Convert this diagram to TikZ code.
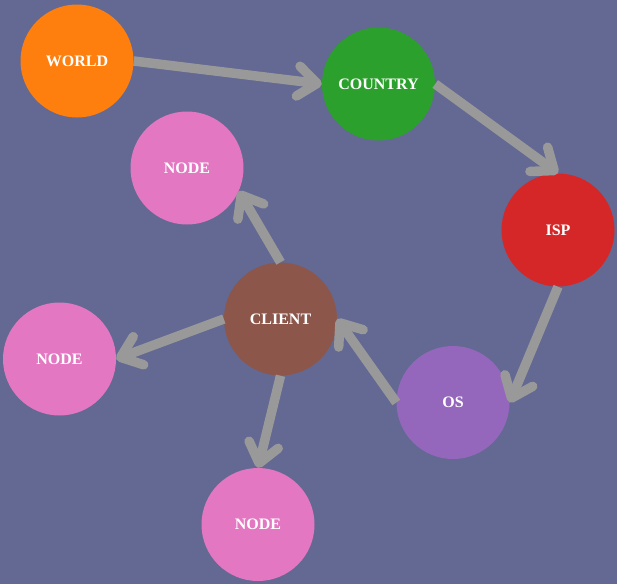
\documentclass[tikz,border=0pt]{standalone}
\usepackage{fontspec}
\setmainfont{Liberation Serif}
\usetikzlibrary{arrows.meta}
\definecolor{bg}{HTML}{636992}
\definecolor{cworld}{HTML}{FF7F0E}
\definecolor{ccountry}{HTML}{2CA02C}
\definecolor{cisp}{HTML}{D62728}
\definecolor{cos}{HTML}{9467BD}
\definecolor{cclient}{HTML}{8C564B}
\definecolor{cnode}{HTML}{E377C2}
\definecolor{edgec}{HTML}{999999}
\begin{document}
\begin{tikzpicture}[x=1pt,y=-1pt,
  ball/.style={circle,minimum size=113pt,inner sep=0pt,text=white,font=\bfseries\fontsize{16}{16}\selectfont},
  link/.style={draw=edgec,line width=9.5pt,line cap=butt,-{Straight Barb[length=19pt,width=30pt,round]}}]
\fill[bg] (0,0) rectangle (617,584);
\useasboundingbox (0,0) rectangle (617,584);
\node[ball,fill=cworld] (world) at (77,61) {WORLD};
\node[ball,fill=ccountry] (country) at (378.5,84) {COUNTRY};
\node[ball,fill=cisp] (isp) at (558,230) {ISP};
\node[ball,fill=cos] (os) at (453,402.5) {OS};
\node[ball,fill=cclient] (client) at (280.5,319) {CLIENT};
\node[ball,fill=cnode] (ntop) at (187,168) {NODE};
\node[ball,fill=cnode] (nleft) at (59.5,359) {NODE};
\node[ball,fill=cnode] (nbot) at (258,524.5) {NODE};
\draw[link] (world.east) -- (country.west);
\draw[link] (country.east) -- (isp.north);
\draw[link] (isp.south) -- (os.east);
\draw[link] (os.west) -- (client.east);
\draw[link] (client.north) -- (ntop.-24);
\draw[link] (client.west) -- (nleft.east);
\draw[link] (client.south) -- (nbot.north);
\end{tikzpicture}
\end{document}
